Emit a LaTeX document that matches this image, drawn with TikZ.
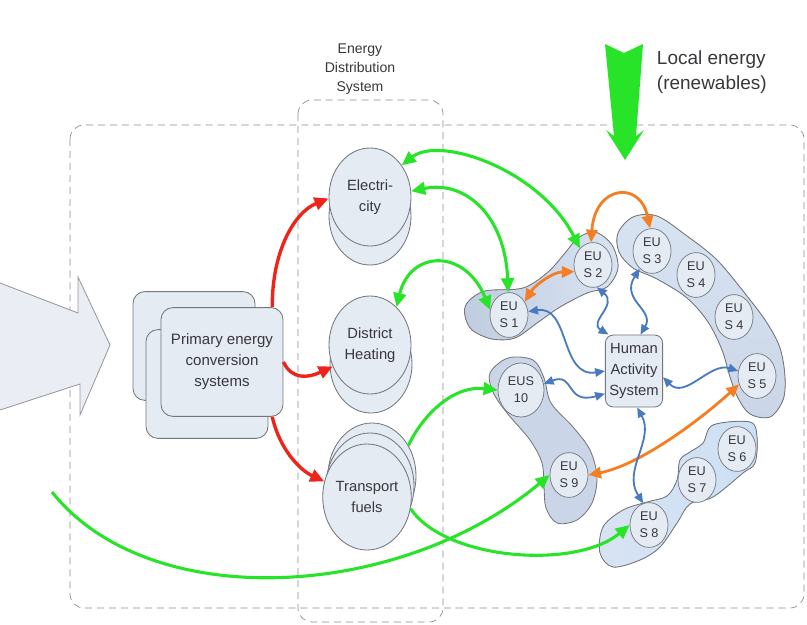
\documentclass[tikz,border=0pt]{standalone}
\usepackage{fontspec}
\setmainfont{Liberation Sans}
\usetikzlibrary{arrows.meta,shapes.geometric}

\definecolor{gline}{RGB}{40,228,40}
\definecolor{rline}{RGB}{238,35,25}
\definecolor{oline}{RGB}{245,125,35}
\definecolor{bline}{RGB}{72,122,192}
\definecolor{edge}{RGB}{115,118,125}
\definecolor{cfill}{RGB}{229,235,243}
\definecolor{arrf}{RGB}{234,238,244}
\definecolor{txt}{RGB}{55,55,60}
\definecolor{blobdark}{RGB}{192,205,224}
\definecolor{bloblight}{RGB}{216,227,242}
\definecolor{blobmid}{RGB}{202,214,231}
\definecolor{blobsky}{RGB}{204,224,245}

\tikzset{
	dashbox/.style={draw=edge!85, dashed, dash pattern=on 5pt off 3.5pt, line width=0.5pt, rounded corners=0.35cm},
	prim/.style={rectangle, rounded corners=0.3cm, draw=edge, fill=cfill, line width=0.6pt, minimum width=3.05cm, minimum height=2.72cm, align=center, text=txt, font=\fontsize{10.7}{15}\selectfont},
	esys/.style={ellipse, draw=edge, fill=cfill, line width=0.6pt, minimum width=2.05cm, minimum height=2.45cm, inner sep=0pt, align=center, text=txt, font=\fontsize{10.5}{14.5}\selectfont},
	tfsize/.style={minimum width=2.2cm, minimum height=2.65cm},
	eu/.style={ellipse, draw=edge, fill=cfill, line width=0.5pt, minimum width=0.95cm, minimum height=1.12cm, inner sep=0pt, align=center, text=txt, font=\fontsize{9}{12}\selectfont},
	hasbox/.style={rectangle, rounded corners=0.2cm, draw=edge, fill=cfill, line width=0.6pt, minimum width=1.43cm, minimum height=1.8cm, inner sep=0pt, align=center, text=txt, font=\fontsize{10.5}{15}\selectfont},
	blob/.style={draw=edge, line width=0.6pt},
	garrow/.style={draw=gline, line width=2.2pt, >={Triangle[length=10pt,width=9pt]}},
	rarrow/.style={draw=rline, line width=2.4pt, >={Triangle[length=10pt,width=9pt]}},
	oarrow/.style={draw=oline, line width=2pt, >={Triangle[length=9pt,width=8pt]}},
	barrow/.style={draw=bline, line width=1.3pt, >={Triangle[length=7pt,width=6pt]}}
}

\begin{document}
\begin{tikzpicture}[x=0.025cm, y=-0.025cm]
	\useasboundingbox (0,0) rectangle (807,624);
	%虚线框
	\draw[dashbox] (70,125) rectangle (804,608);
	\draw[dashbox] (298,100) rectangle (443,622);
	\node[align=center, text=txt, font=\fontsize{10}{13.5}\selectfont] (edslabel) at (360,69) {Energy\\Distribution\\System};
	%左边大箭头
	\fill[arrf] (0,283) -- (78,313) -- (78,277) -- (110,345) -- (80,415) -- (80,384) -- (0,410) -- cycle;
	\draw[edge!75, line width=0.6pt] (0,283) -- (78,313) -- (78,277) -- (110,345) -- (80,415) -- (80,384) -- (0,410);
	%本地能源
	\fill[gline] (605,44) -- (624,53) -- (643,44) -- (636,136) -- (644,130) -- (625,160) -- (606,130) -- (614,136) -- cycle;
	\node[anchor=west, align=left, text=txt, font=\fontsize{13.5}{18}\selectfont] (local) at (652,72) {Local energy\\(renewables)};
	%用户组
	\filldraw[blob, left color=blobdark, right color=bloblight] plot[smooth cycle, tension=0.55] coordinates {(467,303) (485,291) (523,288) (548,272) (565,253) (578,238) (595,232) (612,245) (618,268) (607,287) (587,293) (560,307) (537,323) (515,338) (492,339) (472,330) (465,316)};
	\filldraw[blob, top color=bloblight, bottom color=blobmid] plot[smooth cycle, tension=0.55] coordinates {(618,233) (633,217) (657,216) (687,236) (717,260) (747,296) (767,323) (780,348) (785,377) (783,400) (770,417) (750,414) (738,398) (730,377) (722,350) (708,322) (687,298) (657,279) (633,268) (619,252)};
	\filldraw[blob, fill=blobmid] plot[smooth cycle, tension=0.55] coordinates {(490,373) (508,358) (533,360) (544,378) (551,403) (573,427) (590,450) (597,477) (592,503) (577,520) (557,523) (546,508) (544,487) (542,463) (530,440) (507,413) (493,392)};
	\filldraw[blob, left color=bloblight, right color=blobsky] plot[smooth cycle, tension=0.55] coordinates {(703,443) (713,425) (750,422) (757,437) (755,463) (743,473) (713,497) (690,504) (677,523) (660,547) (640,560) (613,567) (600,553) (603,527) (623,510) (647,502) (667,496) (677,480) (680,460) (690,452)};
	%一次能源转换
	\node[prim] (pb1) at (194,346) {};
	\node[prim] (pb2) at (207,384) {};
	\node[prim] (pc) at (222,362) {Primary energy\\conversion\\systems};
	%能源分配
	\node[esys] (elecb) at (370,216) {};
	\node[esys] (elec) at (370,197) {Electri-\\city};
	\node[esys] (dhb) at (371,364) {};
	\node[esys] (dh) at (370,345) {District\\Heating};
	\node[esys, tfsize] (tfb2) at (372,476) {};
	\node[esys, tfsize] (tfb1) at (370,486) {};
	\node[esys, tfsize] (tf) at (367,497) {Transport\\fuels};
	%终端用户
	\node[eu] (eus1) at (509,315) {EU\\S 1};
	\node[eu] (eus2) at (593,265) {EU\\S 2};
	\node[eu] (eus3) at (652,251) {EU\\S 3};
	\node[eu] (eus4a) at (696,275) {EU\\S 4};
	\node[eu] (eus4b) at (734,317) {EU\\S 4};
	\node[eu] (eus5) at (757,376) {EU\\S 5};
	\node[eu] (eus6) at (737,449) {EU\\S 6};
	\node[eu] (eus7) at (697,480) {EU\\S 7};
	\node[eu] (eus8) at (649,525) {EU\\S 8};
	\node[eu] (eus9) at (569,475) {EU\\S 9};
	\node[eu, minimum width=1.15cm, minimum height=1.35cm] (eus10) at (521,390) {EUS\\10};
	\node[hasbox] (has) at (634,371) {Human\\Activity\\System};
	\coordinate (gsrc) at (52,492);
	%红色
	\draw[rarrow, ->] ([xshift=-0.28cm]pc.north east) .. controls (272,250) and (295,212) .. (elec.182);
	\draw[rarrow, ->] (pc.east) .. controls (292,380) and (308,378) .. (dh.210);
	\draw[rarrow, ->] ([xshift=-0.28cm]pc.south east) .. controls (280,450) and (300,470) .. (tf.160);
	%绿色
	\draw[garrow, <->] (elec.45) .. controls (440,135) and (540,170) .. (eus2.128);
	\draw[garrow, <->] (elec.8) .. controls (465,180) and (505,215) .. (eus1.92);
	\draw[garrow, <->] (dh.55) .. controls (410,250) and (465,248) .. (eus1.165);
	\draw[garrow, ->] (tfb2.40) .. controls (420,420) and (450,385) .. (eus10.west);
	\draw[garrow, ->] (gsrc) .. controls (150,615) and (400,600) .. (eus9.west);
	\draw[garrow, ->] (tf.-15) .. controls (445,560) and (575,570) .. (eus8.west);
	%橙色
	\draw[oarrow, <->] (eus2.95) .. controls (595,185) and (640,180) .. (eus3.95);
	\draw[oarrow, <->] (eus1.40) .. controls (535,285) and (553,272) .. (eus2.200);
	\draw[oarrow, <->] (eus9.east) .. controls (640,465) and (700,420) .. (eus5.205);
	%蓝色
	\draw[barrow, <->] (eus1.10) .. controls (570,305) and (560,378) .. (has.west);
	\draw[barrow, <->] (eus10.15) .. controls (575,372) and (565,405) .. (has.218);
	\draw[barrow, <->] (eus2.-80) .. controls (618,305) and (588,322) .. (has.125);
	\draw[barrow, <->] (eus3.-125) .. controls (620,300) and (655,310) .. (has.80);
	\draw[barrow, <->] (has.-12) .. controls (685,400) and (710,362) .. (eus5.165);
	\draw[barrow, <->] (has.-85) .. controls (655,440) and (622,470) .. (eus8.105);
\end{tikzpicture}
\end{document}
